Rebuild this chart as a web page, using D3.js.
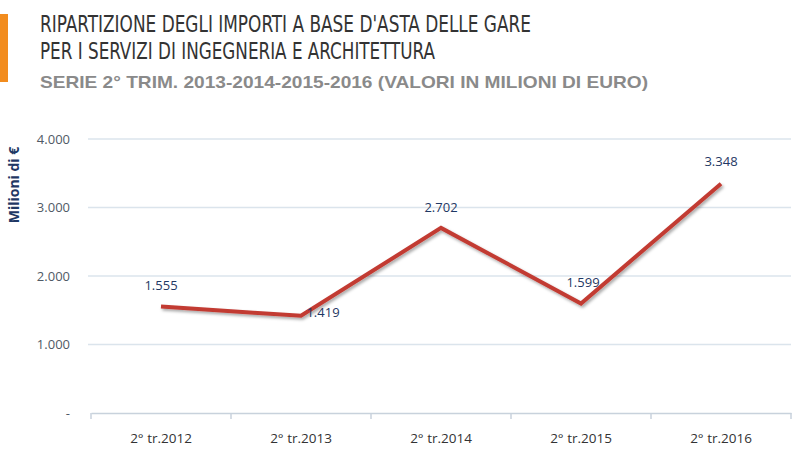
<!DOCTYPE html>
<html><head><meta charset="utf-8">
<script src="https://cdn.jsdelivr.net/npm/d3@7"></script>
<style>body{margin:0;background:#fff}svg{display:block}</style>
</head><body>
<svg id="c" width="800" height="455"></svg>
<script>
const categories = ["2° tr.2012","2° tr.2013","2° tr.2014","2° tr.2015","2° tr.2016"];
const values = [1555, 1419, 2702, 1599, 3348];
const valueLabels = ["1.555","1.419","2.702","1.599","3.348"];
const yTicks = [0, 1000, 2000, 3000, 4000];
const yTickLabels = ["-", "1.000", "2.000", "3.000", "4.000"];
const titleLines = ["RIPARTIZIONE DEGLI IMPORTI A BASE D'ASTA DELLE GARE","PER I SERVIZI DI INGEGNERIA E ARCHITETTURA"];
const subtitle = "SERIE 2° TRIM. 2013-2014-2015-2016 (VALORI IN MILIONI DI EURO)";
const yTitle = "Milioni di €";

const svg = d3.select("#c");
const defs = svg.append("defs");
const f = defs.append("filter").attr("id","sh").attr("x","-10%").attr("y","-10%").attr("width","130%").attr("height","140%");
f.append("feDropShadow").attr("dx",1.5).attr("dy",2).attr("stdDeviation",1.5).attr("flood-color","#000").attr("flood-opacity",0.35);

// orange bar
svg.append("rect").attr("x",0).attr("y",14).attr("width",8).attr("height",68).attr("fill","#f28c1e");

// titles
const tl = [[titleLines[0], 32, 491],[titleLines[1], 59, 395]];
tl.forEach(([t,y,w])=>{
  svg.append("text").attr("x",40).attr("y",y).text(t)
    .attr("font-family","'Liberation Sans Narrow','DejaVu Sans Condensed',Arial,sans-serif")
    .attr("font-size",23.5).attr("fill","#333")
    .attr("textLength",w).attr("lengthAdjust","spacingAndGlyphs");
});
svg.append("text").attr("x",40).attr("y",88).text(subtitle)
  .attr("font-family","'Liberation Sans',Arial,sans-serif").attr("font-weight","bold")
  .attr("font-size",17).attr("fill","#8a8a8a")
  .attr("textLength",608).attr("lengthAdjust","spacingAndGlyphs");

const x = d3.scaleBand().domain(categories).range([91,791]);
const y = d3.scaleLinear().domain([0,4000]).range([413,139]);

// gridlines
svg.append("g").selectAll("line").data(yTicks.slice(1)).join("line")
  .attr("x1",88).attr("x2",791).attr("y1",d=>y(d)).attr("y2",d=>y(d))
  .attr("stroke","#dbe4ec").attr("stroke-width",1.5);

// y axis labels
const ya = svg.append("g").attr("transform","translate(70,0)")
  .call(d3.axisLeft(y).tickValues(yTicks).tickFormat((d,i)=>yTickLabels[i]).tickSize(0).tickPadding(0));
ya.select(".domain").remove();
ya.selectAll("text").attr("font-family","'Open Sans','Liberation Sans',sans-serif").attr("font-size",13).attr("fill","#505a66");

// x axis
const xa = svg.append("g").attr("transform","translate(0,413)")
  .call(d3.axisBottom(x).tickSize(0).tickPadding(20));
xa.select(".domain").attr("stroke","#c8d2dc").attr("stroke-width",1.5);
xa.selectAll("text").attr("font-family","'Open Sans','Liberation Sans',sans-serif").attr("font-size",13.5).attr("fill","#333");
svg.append("g").selectAll("line").data(categories.concat([null])).join("line")
  .attr("x1",(d,i)=>91+i*x.step()).attr("x2",(d,i)=>91+i*x.step())
  .attr("y1",413).attr("y2",419).attr("stroke","#c8d2dc").attr("stroke-width",1.5);

// y title
svg.append("text").attr("transform","translate(19,185) rotate(-90)").attr("text-anchor","middle")
  .text(yTitle).attr("font-family","'Open Sans','Liberation Sans',sans-serif").attr("font-weight","bold")
  .attr("font-size",14).attr("fill","#1f3864");

// line
const cx = d => x(d) + x.bandwidth()/2;
svg.append("path").datum(values)
  .attr("d", d3.line().x((d,i)=>cx(categories[i])).y(d=>y(d)))
  .attr("fill","none").attr("stroke","#c23b33").attr("stroke-width",4).attr("filter","url(#sh)");

// value labels
const off = [[0,-21],[22,-4],[0,-21],[2,-21],[0,-23]];
svg.append("g").selectAll("text").data(values).join("text")
  .attr("x",(d,i)=>cx(categories[i])+off[i][0]).attr("y",(d,i)=>y(d)+off[i][1])
  .attr("text-anchor","middle").attr("dominant-baseline","central")
  .text((d,i)=>valueLabels[i])
  .attr("font-family","'Open Sans','Liberation Sans',sans-serif").attr("font-size",13).attr("fill","#1f3864");
</script>
</body></html>
